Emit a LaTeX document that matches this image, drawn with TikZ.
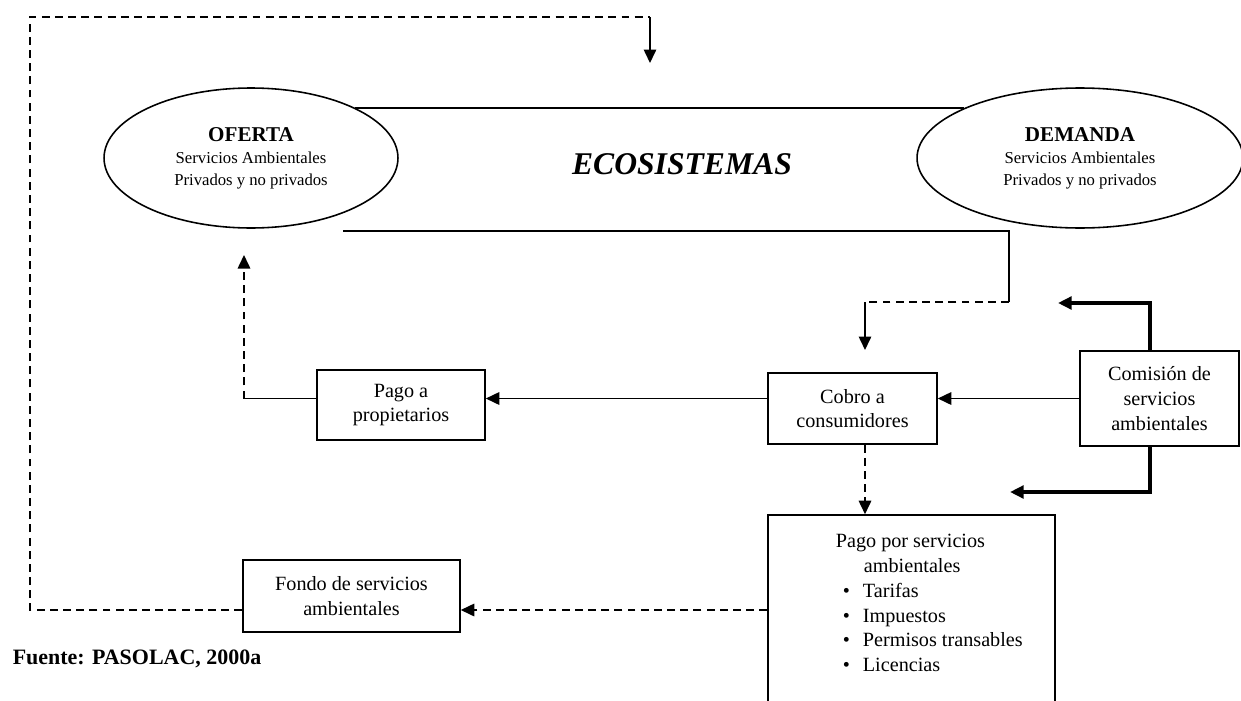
\documentclass[tikz,border=0pt]{standalone}
\usepackage{fontspec}
\setmainfont{Liberation Serif}
\usetikzlibrary{arrows.meta,shapes.geometric}
\newcommand{\psaitem}[1]{\hspace*{4pt}\makebox[11.4pt][l]{\textbullet}#1}

\begin{document}
\begin{tikzpicture}[x=0.02cm,y=-0.02cm,
				line width=0.9pt,
				oval/.style={ellipse,draw,inner sep=0pt,minimum height=2.8cm,
					align=center,font=\fontsize{9.5}{12.5}\selectfont},
				box/.style={draw,align=center,inner sep=2pt,
					font=\fontsize{11.5}{14}\selectfont},
				arr/.style={-{Triangle[length=2.7mm,width=2.5mm]}},
				dsh/.style={dash pattern=on 4.5pt off 3pt},
				dasharr/.style={dsh,arr},
				bold/.style={arr,line width=2pt}]
				\useasboundingbox (0,0) rectangle (1241,700);
				\node[oval,minimum width=5.88cm] (ofer) at (251,158)
					{{\fontsize{12}{14}\selectfont\bfseries OFERTA}\\Servicios Ambientales\\Privados y no privados};
				\node[oval,minimum width=6.52cm] (dem) at (1080,158)
					{{\fontsize{12}{14}\selectfont\bfseries DEMANDA}\\Servicios Ambientales\\Privados y no privados};
				\node[font=\fontsize{18}{21}\selectfont\bfseries\itshape] (eco) at (682,164) {ECOSISTEMAS};
				\node[box,minimum width=3.36cm,minimum height=1.4cm] (pago) at (401,405) {Pago a\\propietarios};
				\node[box,minimum width=3.38cm,minimum height=1.42cm] (cob) at (852.5,408.5) {Cobro a\\consumidores};
				\node[box,minimum width=3.18cm,minimum height=1.9cm] (com) at (1159.5,398.5) {Comisión de\\servicios\\ambientales};
				\node[draw,minimum width=5.74cm,minimum height=3.8cm] (psa) at (911.5,610) {};
				\node[anchor=north west,inner sep=0pt,align=left,font=\fontsize{11.5}{14.2}\selectfont] (psatxt) at (835,533)
					{Pago por servicios\\\hspace*{16pt}ambientales\\\psaitem{Tarifas}\\\psaitem{Impuestos}\\\psaitem{Permisos transables}\\\psaitem{Licencias}};
				\node[box,minimum width=4.34cm,minimum height=1.44cm] (fondo) at (351.5,596) {Fondo de servicios\\ambientales};
				\node[anchor=west,inner sep=0pt,font=\fontsize{12.5}{15}\selectfont\bfseries] (src) at (12,659) {Fuente: PASOLAC, 2000a};
				\coordinate (lft) at (30,17);
				\coordinate (topc) at (650,17);
				\coordinate (toptip) at (650,63);
				\coordinate (ecoSW) at (343,231);
				\coordinate (bend) at (1009,302);
				\coordinate (drop) at (865,302);
				\coordinate (droptip) at (865,350);
				\coordinate (up) at (244,255);
				\coordinate (c1) at (1058,303);
				\coordinate (c2) at (1010,492);
				\draw (ofer.north east) -- (ofer.north east -| dem.north west);
				\draw (ecoSW) -| (bend);
				\draw[dsh] (bend) -- (drop);
				\draw[arr] (drop) -- (droptip);
				\draw[bold] ([xshift=-0.19cm]com.north) |- (c1);
				\draw[bold] ([xshift=-0.19cm]com.south) |- (c2);
				\draw[arr] (com.west) -- (com.west -| cob.east);
				\draw[arr] (cob.west |- com.west) -- (com.west -| pago.east);
				\draw (pago.west |- com.west) -- (up |- com.west);
				\draw[dasharr] (up |- com.west) -- (up);
				\draw[dasharr] (drop |- cob.south) -- (drop |- psa.north);
				\draw[dasharr] (psa.west) -- (psa.west -| fondo.east);
				\draw[dsh] (fondo.west |- psa.west) -| (lft) -- (topc);
				\draw[arr] (topc) -- (toptip);
			\end{tikzpicture}
\end{document}
